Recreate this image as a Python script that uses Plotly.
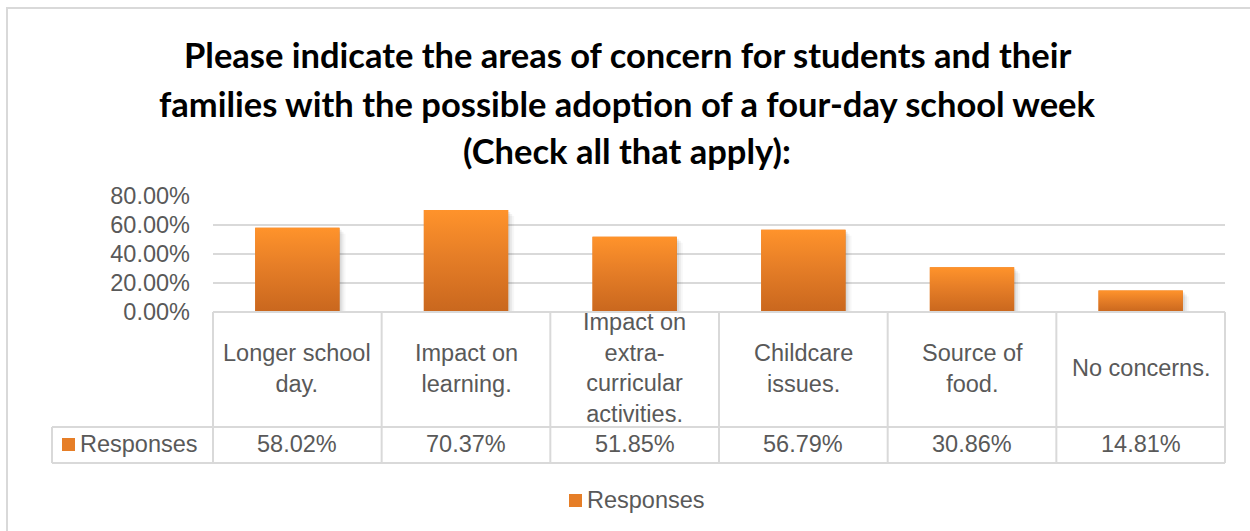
import plotly.graph_objects as go

# Survey results: share of respondents selecting each concern
categories = [
    "Longer school<br>day.",
    "Impact on<br>learning.",
    "Impact on<br>extra-<br>curricular<br>activities.",
    "Childcare<br>issues.",
    "Source of<br>food.",
    "No concerns.",
]
responses = [58.02, 70.37, 51.85, 56.79, 30.86, 14.81]
series_name = "Responses"
y_ticks = [0, 20, 40, 60, 80]
title_lines = [
    "Please indicate the areas of concern for students and their",
    "families with the possible adoption of a four-day school week",
    "(Check all that apply):",
]

W, H = 1250, 531
L, R, T, B = 213, 1225, 196, 312  # plot area in pixels

GRID = "#D9D9D9"
TXT = "#595959"
ORANGE_TOP = "#FF932B"
ORANGE_MID = "#E67E27"
ORANGE_BOT = "#C9671E"
FONT = "Liberation Sans, Arial, sans-serif"
FS = 23.5


def px_x(px):
    return (px - L) / (R - L)


def px_y(py):
    return (B - py) / (B - T)


n = len(categories)
xs = list(range(n))
bar_w = 0.5
unit_x = n / (R - L)          # x-axis units per pixel
unit_y = 80 / (B - T)         # y-axis units per pixel

fig = go.Figure()

# soft drop shadow to the right of each bar
for i, v in enumerate(responses):
    for off, alpha in ((2, 0.07), (4, 0.05), (6, 0.03)):
        x0 = i - bar_w / 2 + off * unit_x
        x1 = i + bar_w / 2 + off * unit_x
        ytop = max(v - off * unit_y, 0)
        fig.add_trace(go.Scatter(
            x=[x0, x1, x1, x0, x0], y=[0, 0, ytop, ytop, 0],
            mode="lines", line=dict(width=0), fill="toself",
            fillcolor=f"rgba(0,0,0,{alpha})", showlegend=False, hoverinfo="skip",
        ))

# base bars
fig.add_trace(go.Bar(
    x=xs, y=responses, width=bar_w, name=series_name,
    marker=dict(color=ORANGE_MID, line=dict(width=0)),
    showlegend=False, hovertemplate="%{y:.2f}%<extra></extra>",
))

# vertical gradient over each bar
for i, v in enumerate(responses):
    x0, x1 = i - bar_w / 2, i + bar_w / 2
    fig.add_trace(go.Scatter(
        x=[x0, x1, x1, x0, x0], y=[0, 0, v, v, 0],
        mode="lines", line=dict(width=0), fill="toself",
        fillgradient=dict(type="vertical", start=0, stop=v,
                          colorscale=[[0, ORANGE_BOT], [0.55, ORANGE_MID], [1, ORANGE_TOP]]),
        showlegend=False, hoverinfo="skip",
    ))

shapes = []
annotations = []

# outer chart border
shapes.append(dict(type="rect", xref="paper", yref="paper",
                   x0=px_x(7), x1=px_x(1262), y0=px_y(8), y1=px_y(545),
                   line=dict(color=GRID, width=2), layer="below"))

# data table grid
top_y, mid_y, bot_y = px_y(312), px_y(427), px_y(463)
left_x = px_x(52)
line_style = dict(color=GRID, width=2)
shapes.append(dict(type="line", xref="paper", yref="paper", x0=0, x1=1, y0=top_y, y1=top_y, line=line_style))
for yy in (mid_y, bot_y):
    shapes.append(dict(type="line", xref="paper", yref="paper", x0=left_x, x1=1, y0=yy, y1=yy, line=line_style))
for k in range(n + 1):
    xx = k / n
    shapes.append(dict(type="line", xref="paper", yref="paper", x0=xx, x1=xx, y0=top_y, y1=bot_y, line=line_style))
shapes.append(dict(type="line", xref="paper", yref="paper", x0=left_x, x1=left_x, y0=mid_y, y1=bot_y, line=line_style))

# category labels and values
for i, (c, v) in enumerate(zip(categories, responses)):
    annotations.append(dict(x=i, xref="x", y=px_y(368), yref="paper", text=c, showarrow=False,
                            xanchor="center", yanchor="middle", align="center",
                            font=dict(family=FONT, size=FS, color=TXT)))
    annotations.append(dict(x=i, xref="x", y=px_y(444), yref="paper", text=f"{v:.2f}%", showarrow=False,
                            xanchor="center", yanchor="middle",
                            font=dict(family=FONT, size=FS, color=TXT)))

# series key inside the table
shapes.append(dict(type="rect", xref="paper", yref="paper", x0=px_x(62), x1=px_x(75), y0=px_y(438), y1=px_y(451),
                   fillcolor=ORANGE_MID, line=dict(width=0)))
annotations.append(dict(x=px_x(78), xref="paper", y=px_y(444), yref="paper", text=series_name, showarrow=False,
                        xanchor="left", yanchor="middle", font=dict(family=FONT, size=FS, color=TXT)))

# legend below the table
shapes.append(dict(type="rect", xref="paper", yref="paper", x0=px_x(569), x1=px_x(582), y0=px_y(494), y1=px_y(507),
                   fillcolor=ORANGE_MID, line=dict(width=0)))
annotations.append(dict(x=px_x(585), xref="paper", y=px_y(500), yref="paper", text=series_name, showarrow=False,
                        xanchor="left", yanchor="middle", font=dict(family=FONT, size=FS, color=TXT)))

# title
for k, (line, cy) in enumerate(zip(title_lines, (55, 103, 150))):
    annotations.append(dict(x=px_x(627), xref="paper", y=px_y(cy), yref="paper", text=f"<b>{line}</b>",
                            showarrow=False, xanchor="center", yanchor="middle",
                            font=dict(family="Lato, Calibri, sans-serif", size=34.5, color="#000000")))

fig.update_layout(
    width=W, height=H,
    margin=dict(l=L, r=W - R, t=T, b=H - B, pad=0),
    paper_bgcolor="white", plot_bgcolor="white",
    showlegend=False,
    shapes=shapes, annotations=annotations,
    xaxis=dict(range=[-0.5, n - 0.5], showticklabels=False, showgrid=False, zeroline=False,
               showline=False, fixedrange=True),
    yaxis=dict(range=[0, 80], tickvals=y_ticks, ticktext=[f"{t:.2f}%" for t in y_ticks],
               showgrid=True, gridcolor=GRID, gridwidth=2, zeroline=False, showline=False,
               ticklabelstandoff=22,
               tickfont=dict(family=FONT, size=FS, color=TXT), fixedrange=True),
)

fig.write_html("out.html")
